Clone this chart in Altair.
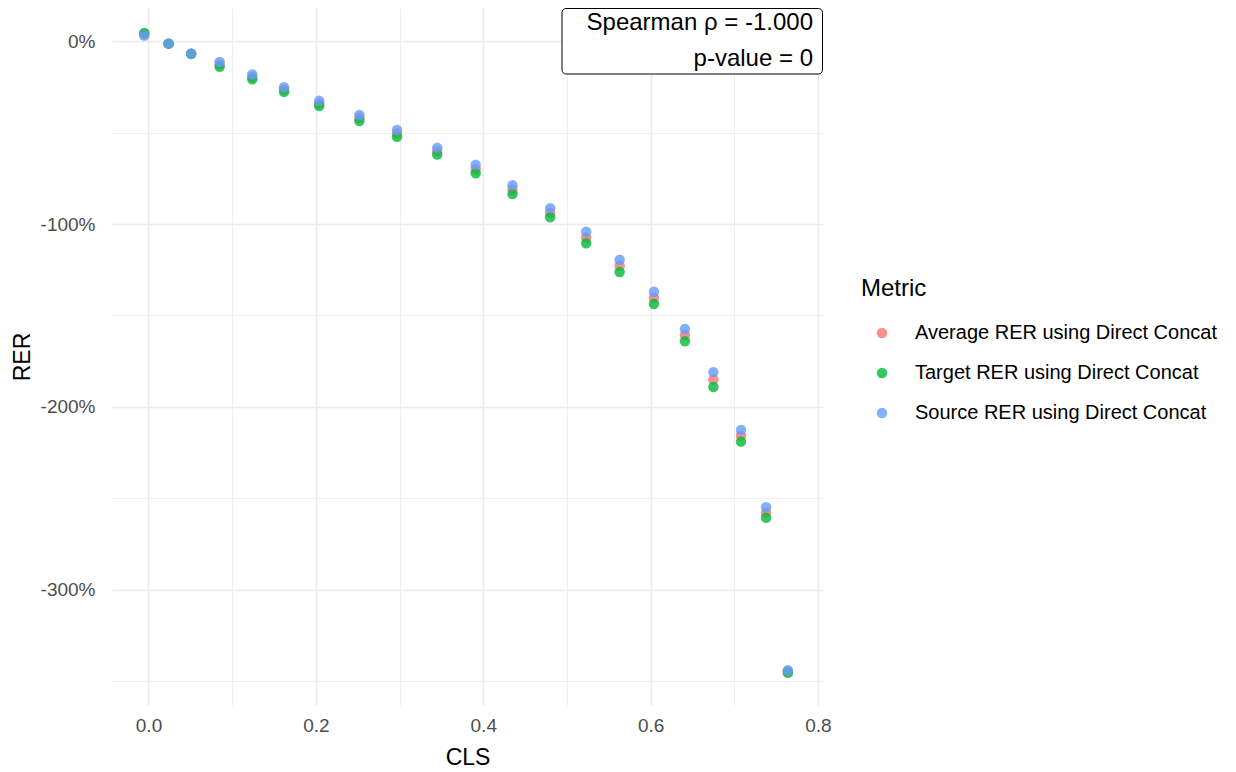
import altair as alt
import pandas as pd

cls = [-0.005, 0.024, 0.051, 0.085, 0.124, 0.162, 0.204, 0.252, 0.297, 0.345,
       0.391, 0.435, 0.480, 0.523, 0.563, 0.604, 0.641, 0.675, 0.708, 0.738, 0.764]
source_rer = [3.2, -1.3, -6.7, -11.3, -18.2, -25.1, -32.6, -40.3, -48.5, -58.2,
              -67.6, -78.7, -91.3, -104.2, -119.5, -137.0, -157.4, -181.0, -212.6, -254.9, -344.1]
target_rer = [4.5, -1.3, -6.9, -14.0, -20.8, -27.7, -35.4, -43.6, -52.3, -62.0,
              -72.2, -83.6, -96.3, -110.5, -126.2, -143.7, -164.1, -189.1, -219.0, -260.7, -345.5]
average_rer = [round((s + t) / 2, 2) for s, t in zip(source_rer, target_rer)]

metrics = ["Average RER using Direct Concat", "Target RER using Direct Concat",
           "Source RER using Direct Concat"]
colors = ["#F8766D", "#00BA38", "#619CFF"]
annotation = ["Spearman ρ = -1.000", "p-value = 0"]

rows = []
for i, (name, vals) in enumerate(zip(metrics, [average_rer, target_rer, source_rer])):
    for c, v in zip(cls, vals):
        rows.append({"CLS": c, "RER": v, "Metric": name, "order": i})
df = pd.DataFrame(rows)

FONT = "Liberation Sans"
W, H = 711, 697

x_axis = alt.Axis(
    values=[0, 0.1, 0.2, 0.3, 0.4, 0.5, 0.6, 0.7, 0.8],
    labelExpr="abs(round(datum.value*10)) % 2 == 0 ? format(datum.value, '.1f') : ''",
    grid=True, gridColor="#EBEBEB",
    gridWidth={"condition": {"test": "abs(round(datum.value*10)) % 2 == 0", "value": 1.6}, "value": 0.8},
    ticks=False, domain=False, labelPadding=11, labelFontSize=19, labelColor="#4D4D4D",
    labelFont=FONT, title="CLS", titleFont=FONT, titleFontSize=23, titleFontWeight="normal",
    titleColor="#000000", titlePadding=11,
)
y_axis = alt.Axis(
    values=[0, -50, -100, -150, -200, -250, -300, -350],
    labelExpr="datum.value % 100 == 0 ? datum.value + '%' : ''",
    grid=True, gridColor="#EBEBEB",
    gridWidth={"condition": {"test": "datum.value % 100 == 0", "value": 1.6}, "value": 0.8},
    ticks=False, domain=False, labelPadding=17, labelFontSize=19, labelColor="#4D4D4D",
    labelFont=FONT, title="RER", titleFont=FONT, titleFontSize=23, titleFontWeight="normal",
    titleColor="#000000", titlePadding=6,
)

points = alt.Chart(df).mark_circle(size=110, opacity=0.8).encode(
    x=alt.X("CLS:Q", scale=alt.Scale(domain=[-0.0436, 0.806], nice=False, zero=False), axis=x_axis),
    y=alt.Y("RER:Q", scale=alt.Scale(domain=[-363.1, 18.2], nice=False, zero=False), axis=y_axis),
    color=alt.Color("Metric:N", scale=alt.Scale(domain=metrics, range=colors),
                    sort=metrics,
                    legend=alt.Legend(
                        orient="none", legendX=749, legendY=269, title="Metric",
                        titleFont=FONT, titleFontSize=24, titleFontWeight="normal",
                        titleColor="#000000", titlePadding=22,
                        labelFont=FONT, labelFontSize=20, labelColor="#000000",
                        symbolType="circle", symbolSize=110, symbolOpacity=0.8,
                        symbolStrokeWidth=0, symbolOffset=11, labelOffset=23,
                        rowPadding=20, labelLimit=400,
                    )),
    order=alt.Order("order:Q"),
)

box = alt.Chart(pd.DataFrame({"a": [0]})).mark_rect(
    fill="white", stroke="black", strokeWidth=1, cornerRadius=4
).encode(
    x=alt.value(450), x2=alt.value(710.5), y=alt.value(0.5), y2=alt.value(66)
)

label = alt.Chart(pd.DataFrame({"a": [0]})).mark_text(
    align="right", baseline="alphabetic", font=FONT, fontSize=24, color="#000000",
    lineHeight=36, text=annotation,
).encode(x=alt.value(701), y=alt.value(21.5))

chart = alt.layer(points, box, label).properties(
    width=W, height=H,
    background="white",
    autosize=alt.AutoSizeParams(type="none"),
    padding={"left": 104, "top": 0, "right": 400, "bottom": 80},
).configure_view(strokeWidth=0)

chart.save("out.html", embed_options={"renderer": "svg", "actions": False})
